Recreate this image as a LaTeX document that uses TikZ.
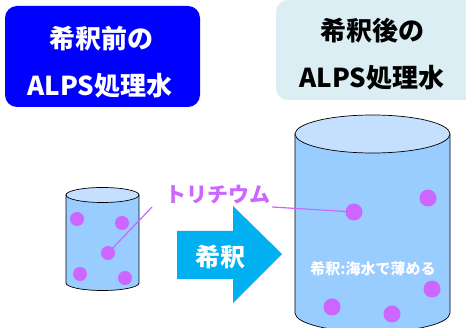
\documentclass[tikz,border=0pt]{standalone}
\usepackage{fontspec}
\newfontfamily\jp{Noto Sans CJK JP}
\usepackage{tikz}
\usetikzlibrary{positioning, calc}
\definecolor{boxblue}{RGB}{0,0,255}
\definecolor{boxpale}{RGB}{218,238,243}
\definecolor{water}{RGB}{153,204,255}
\definecolor{watertop}{RGB}{197,224,255}
\definecolor{trit}{RGB}{204,102,255}
\definecolor{arrowcyan}{RGB}{0,176,240}
\tikzset{headbox/.style={rounded corners=12pt, inner sep=0pt},
    headtext/.style={font=\jp\bfseries\fontsize{26}{26}\selectfont},
    dot/.style={circle, fill=trit, inner sep=0pt, minimum size=14pt},
    bigdot/.style={dot, minimum size=17pt},
    cylbody/.style={fill=water, draw=black, line width=.7pt},
    cyltop/.style={fill=watertop, draw=black, line width=.7pt},
    pointer/.style={draw=trit, line width=1.2pt}}

\begin{document}
\begin{tikzpicture}[x=1pt, y=-1pt, font=\jp\bfseries]
    \useasboundingbox (0,0) rectangle (466,328);
    % header boxes
    \fill[boxblue, headbox] (5,6) rectangle (200,107);
    \node[white, headtext] (beforeA) at (101,39) {希釈前の};
    \node[white, headtext] (beforeB) at (100,86) {ALPS処理水};
    \fill[boxpale, headbox] (276,0) rectangle (480,100);
    \node[headtext] (afterA) at (372,31) {希釈後の};
    \node[headtext] (afterB) at (372,78) {ALPS処理水};
    % small cylinder
    \draw[cylbody] (66,195) -- (66,283) arc[start angle=180, end angle=0, x radius=36.5, y radius=7.5] -- (139,195);
    \draw[cyltop] (102.5,195) ellipse[x radius=36.5, y radius=7.5];
    \node[dot] (s1) at (77,219) {};
    \node[dot] (s2) at (122,223) {};
    \node[dot] (s3) at (108,253) {};
    \node[dot] (s4) at (80,274) {};
    \node[dot] (s5) at (125,278) {};
    % big cylinder
    \draw[cylbody] (295,134) -- (295,313) arc[start angle=180, end angle=0, x radius=77.5, y radius=19] -- (450,134);
    \draw[cyltop] (372.5,134) ellipse[x radius=77.5, y radius=19];
    \node[bigdot] (b1) at (354,212) {};
    \node[bigdot] (b2) at (428,198) {};
    \node[bigdot] (b3) at (432,289) {};
    \node[bigdot] (b4) at (332,307) {};
    \node[bigdot] (b5) at (392,314) {};
    \node[white, font=\jp\bfseries\fontsize{15}{15}\selectfont] (note) at (373,269) {希釈:海水で薄める};
    % arrow
    \fill[arrowcyan] (177,231) -- (233,231) -- (233,206) -- (282,254) -- (233,303) -- (233,279) -- (177,279) -- cycle;
    \node[white, font=\jp\bfseries\fontsize{25}{25}\selectfont] (dil) at (220,257) {希釈};
    % tritium label
    \node[trit, font=\jp\bfseries\fontsize{21}{21}\selectfont] (trlabel) at (218,195) {トリチウム};
    \coordinate (trL) at (152,207);
    \coordinate (trR) at (272,207);
    \draw[pointer] (s3.center) -- (trL);
    \draw[pointer] (trR) -- (b1.center);
\end{tikzpicture}
\end{document}
